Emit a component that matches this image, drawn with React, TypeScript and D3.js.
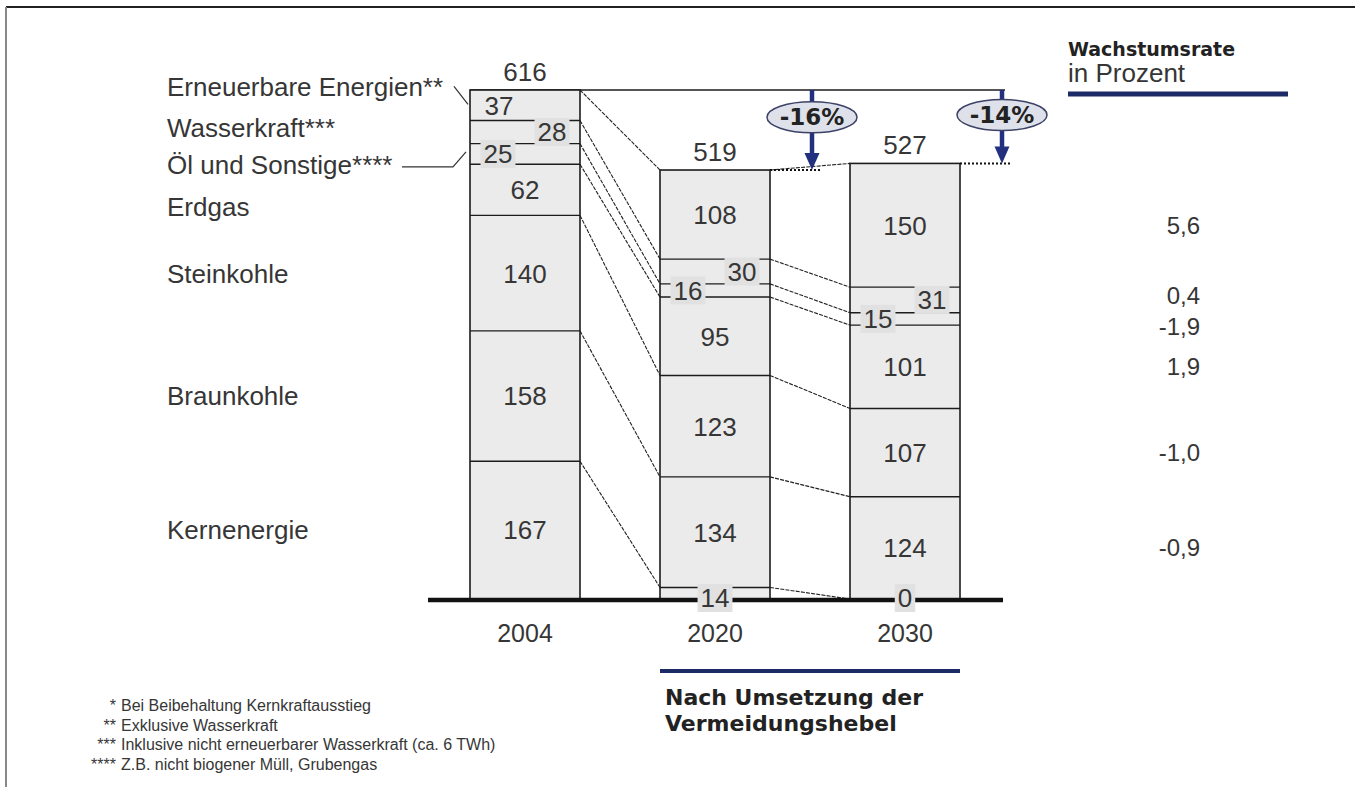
import React from "react";
import * as d3 from "d3";

// ---------- data ----------
const years = ["2004", "2020", "2030"];
const categories = [
  "Kernenergie",
  "Braunkohle",
  "Steinkohle",
  "Erdgas",
  "Öl und Sonstige****",
  "Wasserkraft***",
  "Erneuerbare Energien**",
];
const values2004 = [167, 158, 140, 62, 25, 28, 37];
const values2020 = [14, 134, 123, 95, 16, 30, 108];
const values2030 = [0, 124, 107, 101, 15, 31, 150];
const totals = [616, 519, 527];
const changeLabels = ["", "-16%", "-14%"];
const growthRates = ["", "-0,9", "-1,0", "1,9", "-1,9", "0,4", "5,6"];
const footnoteMarks = ["*", "**", "***", "****"];
const footnoteTexts = [
  "Bei Beibehaltung Kernkraftausstieg",
  "Exklusive Wasserkraft",
  "Inklusive nicht erneuerbarer Wasserkraft (ca. 6 TWh)",
  "Z.B. nicht biogener Müll, Grubengas",
];
const headerTitle = "Wachstumsrate";
const headerSub = "in Prozent";
const bottomNote = ["Nach Umsetzung der", "Vermeidungshebel"];

// ---------- style ----------
const W = 1355;
const H = 787;
const FONT = "'Liberation Sans', Arial, sans-serif";
const BOLD = "'DejaVu Sans', Verdana, sans-serif";
const TEXT = "#363636";
const NAVY = "#1c2a66";
const ARROW = "#233080";
const BAR_FILL = "#ebebeb";
const BOX_FILL = "#e1e1e1";
const EDGE = "#1c1c1c";

const seriesByYear = [values2004, values2020, values2030];

export default function App() {
  const baseY = 599;
  const topY = 90;
  const y = d3
    .scaleLinear()
    .domain([0, d3.sum(values2004)])
    .range([baseY, topY]);
  const x = d3
    .scaleBand<string>()
    .domain(years)
    .range([470, 960])
    .paddingInner(80 / 190)
    .paddingOuter(0);
  const bw = x.bandwidth();

  const cums = seriesByYear.map((vals) => [0, ...Array.from(d3.cumsum(vals))]);
  const n = categories.length;

  const segFont = 26;
  const digitW = 0.556 * segFont;

  // left label vertical adjustments (layout only)
  const labelShift = [0, 0, 0, 17, 11, -4, -19];

  const bars = years.map((yr, j) => {
    const x0 = x(yr) as number;
    const cum = cums[j];
    const vals = seriesByYear[j];
    const top = y(cum[n]);
    return (
      <g key={yr}>
        {vals.map((v, i) => (
          <rect
            key={"r" + i}
            x={x0}
            y={y(cum[i + 1])}
            width={bw}
            height={Math.max(0, y(cum[i]) - y(cum[i + 1]))}
            fill={BAR_FILL}
          />
        ))}
        {cum.slice(1, n).map((c, k) => (
          <line
            key={"b" + k}
            x1={x0}
            x2={x0 + bw}
            y1={y(c)}
            y2={y(c)}
            stroke={EDGE}
            strokeWidth={1.4}
          />
        ))}
        <rect
          x={x0}
          y={top}
          width={bw}
          height={y(0) - top}
          fill="none"
          stroke={EDGE}
          strokeWidth={1.6}
        />
      </g>
    );
  });

  const connectors: any[] = [];
  for (let j = 0; j < years.length - 1; j++) {
    const xa = (x(years[j]) as number) + bw;
    const xb = x(years[j + 1]) as number;
    for (let k = 1; k <= n; k++) {
      connectors.push(
        <line
          key={`c${j}-${k}`}
          x1={xa}
          y1={y(cums[j][k])}
          x2={xb}
          y2={y(cums[j + 1][k])}
          stroke="#222"
          strokeWidth={1.1}
          strokeDasharray="4,1.2"
        />
      );
    }
  }

  const segLabels: any[] = [];
  years.forEach((yr, j) => {
    const x0 = x(yr) as number;
    const cum = cums[j];
    seriesByYear[j].forEach((v, i) => {
      const y1 = y(cum[i]);
      const y2 = y(cum[i + 1]);
      const h = y1 - y2;
      let cx = x0 + bw / 2;
      let cy = (y1 + y2) / 2;
      let box = false;
      if (h < 30) {
        box = true;
        if (i === 0) cy = y(0) - 1;
        else if (i === 4) cx = x0 + 28;
        else if (i === 5) cx = x0 + bw - 28;
      } else if (i === n - 1 && j === 0) {
        cx = x0 + 29;
      }
      const tw = String(v).length * digitW;
      segLabels.push(
        <g key={`l${j}-${i}`}>
          {box && (
            <rect
              x={cx - tw / 2 - 3}
              y={cy - 14}
              width={tw + 6}
              height={28}
              fill={BOX_FILL}
            />
          )}
          <text
            x={cx}
            y={cy}
            dy="0.36em"
            textAnchor="middle"
            fontFamily={FONT}
            fontSize={segFont}
            fill={TEXT}
          >
            {v}
          </text>
        </g>
      );
    });
  });

  const totalLabels = years.map((yr, j) => (
    <text
      key={"t" + yr}
      x={(x(yr) as number) + bw / 2}
      y={y(cums[j][n]) - 9}
      textAnchor="middle"
      fontFamily={FONT}
      fontSize={26}
      fill={TEXT}
    >
      {totals[j]}
    </text>
  ));

  const yearLabels = years.map((yr) => (
    <text
      key={"y" + yr}
      x={(x(yr) as number) + bw / 2}
      y={642}
      textAnchor="middle"
      fontFamily={FONT}
      fontSize={25}
      fill={TEXT}
    >
      {yr}
    </text>
  ));

  // left category labels
  const x2004 = x(years[0]) as number;
  const leftLabels = categories.map((c, i) => {
    const mid = (y(cums[0][i]) + y(cums[0][i + 1])) / 2 + labelShift[i];
    return (
      <text
        key={"cat" + i}
        x={167}
        y={mid}
        dy="0.36em"
        fontFamily={FONT}
        fontSize={26}
        fill={TEXT}
      >
        {c}
      </text>
    );
  });
  const midSeg = (j: number, i: number) =>
    (y(cums[j][i]) + y(cums[j][i + 1])) / 2;
  const ernY = midSeg(0, 6) + labelShift[6];
  const oelY = midSeg(0, 4) + labelShift[4];

  // growth rates on the right
  const rateShift = [0, 0, 0, 0, 7, -5, 0];
  const rates = growthRates.map((r, i) =>
    r ? (
      <text
        key={"g" + i}
        x={1200}
        y={midSeg(2, i) + rateShift[i]}
        dy="0.36em"
        textAnchor="end"
        fontFamily={FONT}
        fontSize={24}
        fill={TEXT}
      >
        {r}
      </text>
    ) : null
  );

  // change arrows
  const top2004 = y(cums[0][n]);
  const arrows = years.map((yr, j) => {
    if (!changeLabels[j]) return null;
    const xr = (x(yr) as number) + bw;
    const ax = xr + 42;
    const tip = y(cums[j][n]);
    const ecy = top2004 + (tip - top2004) * 0.34;
    const rx = 45;
    const ry = 15.5;
    return (
      <g key={"a" + yr}>
        <line
          x1={xr}
          x2={ax + 10}
          y1={tip}
          y2={tip}
          stroke="#111"
          strokeWidth={2}
          strokeDasharray="2,2"
        />
        <line x1={ax} x2={ax} y1={top2004} y2={tip - 14} stroke={ARROW} strokeWidth={4.5} />
        <path
          d={`M${ax - 7.5},${tip - 17} L${ax + 7.5},${tip - 17} L${ax},${tip} Z`}
          fill={ARROW}
        />
        <ellipse
          cx={ax}
          cy={ecy}
          rx={rx}
          ry={ry}
          fill="#dfe1ea"
          stroke="#3c4166"
          strokeWidth={1.5}
        />
        <text
          x={ax}
          y={ecy}
          dy="0.36em"
          textAnchor="middle"
          fontFamily={BOLD}
          fontWeight="bold"
          fontSize={23}
          fill="#222"
        >
          {changeLabels[j]}
        </text>
      </g>
    );
  });

  const x2030r = (x(years[2]) as number) + bw;
  const x2020l = x(years[1]) as number;

  return (
    <svg
      width={W}
      height={H}
      viewBox={`0 0 ${W} ${H}`}
      style={{ position: "absolute", left: 0, top: 0, display: "block", background: "#fff" }}
    >
      <defs>
        <clipPath id="fnClip">
          <rect x={0} y={0} width={W} height={773} />
        </clipPath>
      </defs>
      <rect x={0} y={0} width={W} height={H} fill="#fff" />
      {/* frame */}
      <line x1={6} x2={W} y1={7} y2={7} stroke="#222" strokeWidth={2} />
      <line x1={6} x2={6} y1={7} y2={H} stroke="#888" strokeWidth={2} />

      {/* top reference line */}
      <line x1={x2004} x2={x2030r + 45} y1={top2004} y2={top2004} stroke={EDGE} strokeWidth={1.6} />

      {connectors}
      {bars}
      {arrows}

      {/* base line */}
      <line x1={428} x2={1003} y1={y(0) + 1} y2={y(0) + 1} stroke="#111" strokeWidth={4.5} />

      {segLabels}
      {totalLabels}
      {yearLabels}
      {leftLabels}

      {/* leader lines */}
      <path
        d={`M${x2004 - 16},${ernY} L${x2004 - 2},${midSeg(0, 6) - 1}`}
        fill="none"
        stroke="#333"
        strokeWidth={1.2}
      />
      <path
        d={`M${x2004 - 68},${oelY + 2} L${x2004 - 17},${oelY + 2} L${x2004 - 4},${midSeg(0, 4) - 2}`}
        fill="none"
        stroke="#333"
        strokeWidth={1.2}
      />

      {/* right header */}
      <text x={1068} y={56} fontFamily={BOLD} fontWeight="bold" fontSize={19} fill="#222">
        {headerTitle}
      </text>
      <text x={1068} y={82} fontFamily={FONT} fontSize={26} fill={TEXT}>
        {headerSub}
      </text>
      <line x1={1068} x2={1288} y1={94} y2={94} stroke={NAVY} strokeWidth={5} />
      {rates}

      {/* bottom note */}
      <line x1={x2020l} x2={x2030r} y1={671} y2={671} stroke={NAVY} strokeWidth={4} />
      {bottomNote.map((t, i) => (
        <text
          key={"bn" + i}
          x={665}
          y={705 + i * 26}
          fontFamily={BOLD}
          fontWeight="bold"
          fontSize={22}
          fill="#222"
        >
          {t}
        </text>
      ))}

      {/* footnotes */}
      <g clipPath="url(#fnClip)">
        {footnoteTexts.map((t, i) => (
          <g key={"fn" + i}>
            <text
              x={116}
              y={711 + i * 19.5}
              textAnchor="end"
              fontFamily={FONT}
              fontSize={16}
              fill={TEXT}
            >
              {footnoteMarks[i]}
            </text>
            <text x={121} y={711 + i * 19.5} fontFamily={FONT} fontSize={16} fill={TEXT}>
              {t}
            </text>
          </g>
        ))}
      </g>
    </svg>
  );
}
